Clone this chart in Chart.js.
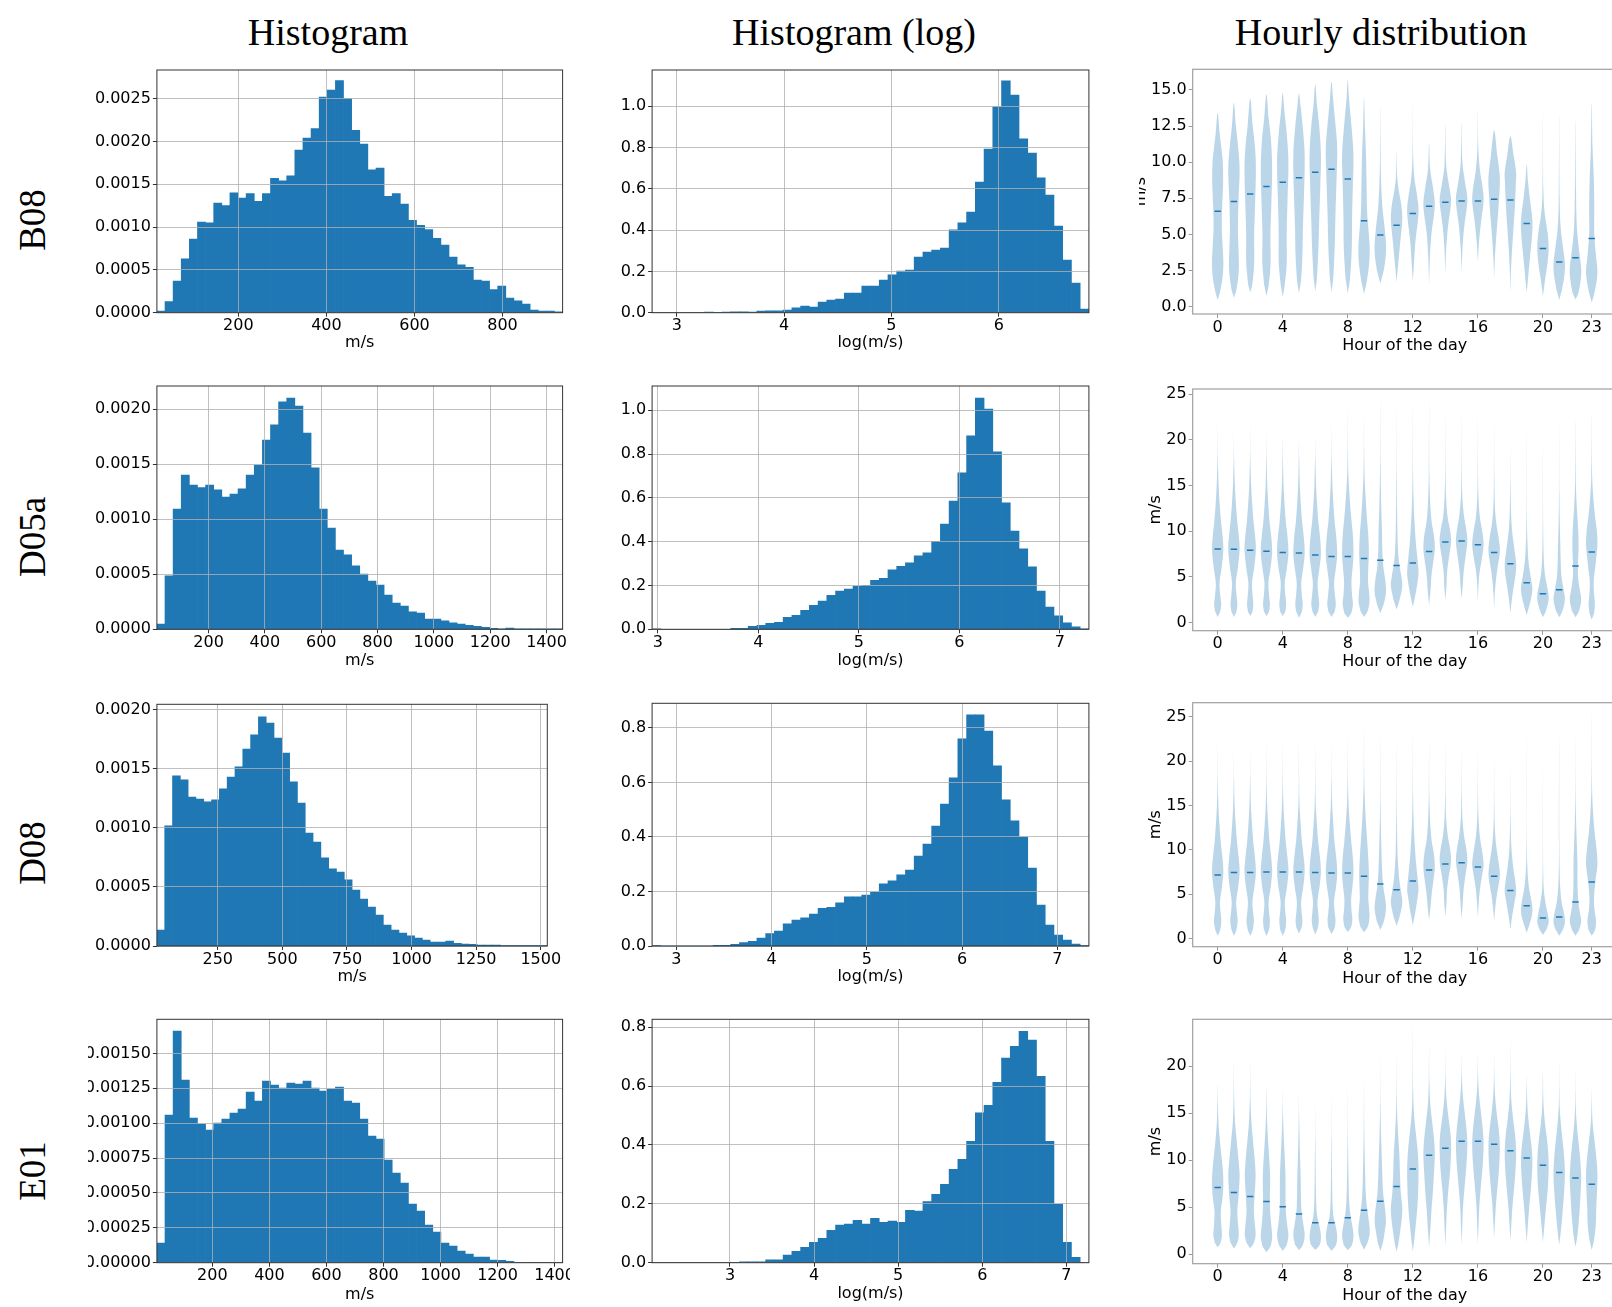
<!DOCTYPE html>
<html>
<head>
<meta charset="utf-8">
<script src="https://cdn.jsdelivr.net/npm/chart.js@4.4.1/dist/chart.umd.min.js"></script>
<style>
html, body { margin: 0; padding: 0; background: #fff; width: 1612px; height: 1307px; overflow: hidden; position: relative; }
canvas { position: absolute; }
.coltitle { position: absolute; font-family: 'Liberation Serif', serif; font-size: 38px; line-height: 38px; white-space: nowrap; transform: translateX(-50%); color: #000; }
.rowlabel { position: absolute; font-family: 'Liberation Serif', serif; font-size: 37px; line-height: 37px; white-space: nowrap; transform: translate(-50%, -50%) rotate(-90deg); color: #000; }
</style>
</head>
<body>
<div class="coltitle" style="left:328px; top:13px">Histogram</div>
<div class="coltitle" style="left:854px; top:13px">Histogram (log)</div>
<div class="coltitle" style="left:1381px; top:13px">Hourly distribution</div>
<div class="rowlabel" style="left:32px; top:220px">B08</div>
<div class="rowlabel" style="left:32px; top:537px">D05a</div>
<div class="rowlabel" style="left:32px; top:853px">D08</div>
<div class="rowlabel" style="left:32px; top:1171px">E01</div>

<script>
// === Datos ===
const stations = ['B08', 'D05a', 'D08', 'E01'];
const hours = [0, 1, 2, 3, 4, 5, 6, 7, 8, 9, 10, 11, 12, 13, 14, 15, 16, 17, 18, 19, 20, 21, 22, 23];
const hourTicks = [0, 4, 8, 12, 16, 20, 23];

// histogram densities (50 bins each) and bin ranges (m/s)
const histB08 = [0.00002,0.00013,0.00037,0.00063,0.00086,0.00106,0.00105,0.00128,0.00125,0.00140,
  0.00134,0.00139,0.00130,0.00139,0.00157,0.00154,0.00160,0.00190,0.00204,0.00215,
  0.00252,0.00260,0.00271,0.00250,0.00213,0.00197,0.00167,0.00169,0.00136,0.00139,
  0.00127,0.00108,0.00102,0.00097,0.00087,0.00079,0.00065,0.00056,0.00053,0.00038,
  0.00037,0.00027,0.00031,0.00017,0.00014,0.00010,0.00003,0.00002,0.00002,0.00001];
const histD05a = [0.000048,0.000485,0.001094,0.001403,0.001312,0.001288,0.001312,0.001267,0.001203,0.00123,
  0.001276,0.001403,0.001494,0.001721,0.001858,0.002067,0.002103,0.00203,0.001785,0.001467,
  0.001094,0.000921,0.000721,0.000676,0.000576,0.000503,0.000439,0.000403,0.000312,0.000239,
  0.000212,0.000158,0.000148,0.000094,0.000094,0.000076,0.000058,0.000048,0.000036,0.000027,
  0.000018,0.000009,0.000003,0.000012,0.000002,0.000002,0.000001,0.000001,0.000001,0.000001];
const histD08 = [0.000135,0.001016,0.001439,0.001405,0.001261,0.001244,0.001219,0.001236,0.001329,0.00143,
  0.001515,0.001667,0.001786,0.001938,0.001887,0.00176,0.001633,0.001388,0.00121,0.000956,
  0.00088,0.000745,0.000652,0.000626,0.000559,0.000474,0.000398,0.00033,0.000262,0.000178,
  0.000135,0.00011,0.000085,0.000068,0.000051,0.000034,0.000034,0.000042,0.000023,0.000017,
  0.000014,0.000008,0.000008,0.000008,0.000003,0.000002,0.000001,0.000001,0.000001,0.000001];
const histE01 = [0.000141,0.001058,0.00166,0.001309,0.001037,0.000994,0.000951,0.001001,0.001029,0.001072,
  0.001101,0.001223,0.001158,0.001302,0.001273,0.001252,0.001287,0.00128,0.001302,0.001252,
  0.00123,0.001244,0.001259,0.001158,0.001144,0.001029,0.000908,0.000886,0.000736,0.000643,
  0.000571,0.00042,0.00037,0.00027,0.00022,0.000141,0.000119,0.000084,0.000062,0.000041,
  0.000041,0.000019,0.000017,0.00001,0.000003,0.000002,0.000001,0.000001,0.000001,0.000001];
const histBinsB08 = [14.9, 936.5];
const histBinsD05a = [16.6, 1457];
const histBinsD08 = [14.5, 1525.2];
const histBinsE01 = [5.4, 1428.2];

// log histogram densities (50 bins each) and bin ranges log(m/s)
const logB08 = [0.001,0,0.001,0.001,0.001,0.002,0.003,0.002,0.003,0.004,
  0.004,0.003,0.008,0.009,0.009,0.013,0.023,0.032,0.027,0.052,
  0.061,0.066,0.095,0.095,0.129,0.129,0.158,0.183,0.202,0.207,
  0.270,0.294,0.304,0.313,0.401,0.435,0.488,0.633,0.793,0.997,
  1.123,1.055,0.842,0.774,0.653,0.570,0.420,0.255,0.144,0.018];
const logD05a = [0.001,0,0,0,0,0,0,0,0,0.005,
  0.005,0.014,0.018,0.027,0.032,0.055,0.064,0.087,0.110,0.129,
  0.155,0.175,0.184,0.196,0.201,0.224,0.233,0.271,0.288,0.303,
  0.335,0.349,0.402,0.481,0.586,0.714,0.883,1.056,1.006,0.810,
  0.577,0.449,0.367,0.285,0.175,0.102,0.061,0.029,0.011,0.001];
const logD08 = [0.001,0,0,0,0,0,0,0.002,0.002,0.006,
  0.013,0.017,0.029,0.046,0.055,0.081,0.095,0.103,0.117,0.138,
  0.142,0.158,0.180,0.180,0.187,0.198,0.228,0.239,0.261,0.279,
  0.330,0.374,0.440,0.521,0.617,0.760,0.848,0.848,0.789,0.661,
  0.536,0.459,0.400,0.286,0.150,0.077,0.040,0.022,0.007,0.001];
const logE01 = [0.001,0,0,0,0,0,0,0,0,0,
  0.003,0.003,0.003,0.010,0.010,0.026,0.039,0.052,0.069,0.083,
  0.110,0.128,0.131,0.144,0.131,0.151,0.137,0.141,0.137,0.178,
  0.175,0.208,0.232,0.266,0.317,0.351,0.412,0.509,0.535,0.613,
  0.695,0.735,0.786,0.756,0.633,0.412,0.198,0.069,0.018,0.001];
const logBinsB08 = [2.77, 6.84];
const logBinsD05a = [2.943, 7.288];
const logBinsD08 = [2.745, 7.33];
const logBinsE01 = [2.074, 7.268];

// hourly mean markers (m/s)
const meanB08 = [6.6,7.27,7.8,8.31,8.61,8.93,9.3,9.51,8.84,5.95,4.96,5.63,6.44,6.95,7.22,7.32,7.32,7.43,7.39,5.75,4.02,3.09,3.39,4.71];
const meanD05a = [8.03,8.0,7.9,7.8,7.66,7.6,7.37,7.2,7.2,7.0,6.8,6.24,6.5,7.77,8.8,8.9,8.5,7.66,6.42,4.34,3.14,3.58,6.17,7.7];
const meanD08 = [7.14,7.44,7.44,7.48,7.48,7.48,7.44,7.37,7.37,7.0,6.13,5.49,6.47,7.7,8.38,8.53,8.05,7.0,5.41,3.68,2.29,2.4,4.1,6.35];
const meanE01 = [7.07,6.54,6.11,5.58,5.04,4.26,3.34,3.34,3.87,4.65,5.61,7.18,9.06,10.5,11.26,12.0,12.0,11.69,10.98,10.23,9.45,8.67,8.1,7.42];

// violin outlines per hour: [m/s, relative half width]
const violinB08 = [
  [[0.46,0],[1,0.4],[2,0.85],[3,1],[4,0.9],[5.5,0.72],[7,0.8],[8.5,0.95],[10,0.9],[11,0.65],[12,0.35],[13.4,0]],
  [[0.62,0],[1.2,0.45],[2.5,0.85],[4,0.8],[5.5,0.7],[7.5,0.82],[9.5,1],[11,0.75],[12.5,0.35],[14.1,0]],
  [[0.97,0],[1.5,0.35],[3,0.7],[5,0.7],[7,0.85],[9.5,1],[11,0.85],[12.5,0.45],[14.4,0]],
  [[0.74,0],[1.5,0.4],[3,0.72],[5,0.7],[7,0.85],[9.5,1],[11.5,0.8],[13,0.4],[14.7,0]],
  [[0.69,0],[1.5,0.35],[3,0.7],[5,0.7],[7.5,0.85],[10,1],[12,0.7],[13.5,0.3],[14.8,0]],
  [[0.92,0],[1.8,0.35],[3.5,0.6],[5.5,0.7],[8,0.9],[10.5,1],[12.5,0.65],[14,0.25],[14.75,0]],
  [[1.04,0],[2,0.3],[4,0.55],[6,0.7],[8.5,0.9],[10.5,1],[12.5,0.7],[14,0.3],[15.4,0]],
  [[0.97,0],[2,0.3],[4,0.55],[6.5,0.7],[9,0.9],[11,1],[13,0.6],[14.5,0.25],[15.6,0]],
  [[0.92,0],[2,0.4],[4,0.7],[6,0.75],[8.5,0.9],[10.5,1],[12.5,0.65],[14.5,0.2],[15.7,0]],
  [[0.88,0],[1.8,0.5],[3,0.9],[4,1],[5,0.85],[6.5,0.55],[8.5,0.45],[10.5,0.35],[12.5,0.15],[14.5,0]],
  [[1.6,0],[2.5,0.6],[3.5,0.95],[4.3,1],[5.5,0.75],[7,0.35],[9,0.12],[11,0.05],[13.9,0]],
  [[1.7,0],[3,0.3],[4.5,0.65],[6,1],[7,0.85],[8,0.4],[9,0.12],[10.8,0]],
  [[1.73,0],[3,0.2],[4.5,0.45],[6,0.9],[6.8,1],[7.8,0.7],[9,0.25],[10.5,0.06],[14.2,0]],
  [[1.5,0],[3.5,0.15],[5,0.4],[6.5,0.9],[7.2,1],[8.2,0.7],[9.5,0.2],[11.3,0]],
  [[2.3,0],[4,0.15],[5.5,0.45],[7,0.95],[7.5,1],[8.5,0.6],[9.8,0.15],[12.6,0]],
  [[2.4,0],[4,0.15],[5.5,0.45],[7,0.95],[7.6,1],[8.6,0.6],[10,0.15],[12.7,0]],
  [[3.1,0],[4.5,0.2],[6,0.6],[7.3,1],[8.2,0.85],[9.5,0.35],[11,0.08],[13.7,0]],
  [[1.96,0],[3.5,0.15],[5,0.4],[6.5,0.7],[8,0.95],[9,1],[10.5,0.55],[12.2,0]],
  [[0.92,0],[2.5,0.1],[4,0.3],[5.5,0.55],[7,0.8],[8.5,0.95],[9.3,1],[10.5,0.55],[11.8,0]],
  [[0.92,0],[2,0.25],[3.5,0.6],[5,0.95],[6,1],[7.5,0.55],[8.8,0.2],[9.86,0]],
  [[0.74,0],[1.8,0.35],[3,0.8],[4,1],[5,0.85],[6.5,0.3],[8,0.08],[13.5,0]],
  [[0.46,0],[1.2,0.5],[2.3,0.95],[3,1],[4,0.7],[5.5,0.25],[7.5,0.08],[13.3,0]],
  [[0.5,0],[1,0.55],[2,0.95],[2.7,1],[4,0.6],[5.5,0.25],[8,0.1],[12.9,0]],
  [[0.28,0],[1,0.5],[2.3,1],[3.5,0.75],[5,0.45],[7,0.45],[9,0.35],[11,0.15],[14.1,0]]
];
const violinD05a = [
  [[0.6,0],[1.2,0.45],[2,0.62],[3,0.45],[4.3,0.33],[6,0.7],[8,1],[9.5,0.85],[11,0.6],[13,0.35],[15,0.17],[18,0.04],[22.1,0]],
  [[0.6,0],[1.2,0.45],[2,0.6],[3,0.45],[4.3,0.33],[6,0.7],[8,1],[9.5,0.85],[11,0.6],[13,0.35],[15,0.17],[18,0.04],[21.1,0]],
  [[0.7,0],[1.2,0.4],[2,0.55],[3,0.42],[4.3,0.32],[6,0.7],[8,1],[9.5,0.85],[11,0.6],[13,0.35],[15,0.17],[18,0.04],[21.6,0]],
  [[0.7,0],[1.2,0.45],[2,0.6],[3,0.45],[4.3,0.35],[6,0.72],[7.8,1],[9.5,0.82],[11,0.55],[13,0.32],[15,0.15],[18,0.04],[20.9,0]],
  [[0.7,0],[1.2,0.45],[2,0.6],[3,0.45],[4.3,0.35],[6,0.75],[7.7,1],[9.5,0.82],[11,0.55],[13,0.32],[15,0.15],[18,0.04],[20.3,0]],
  [[0.5,0],[1.2,0.5],[2,0.65],[3,0.5],[4.3,0.4],[6,0.75],[7.6,1],[9.5,0.82],[11,0.55],[13,0.32],[15,0.15],[18,0.04],[20.1,0]],
  [[0.6,0],[1.2,0.5],[2,0.7],[3,0.55],[4.3,0.42],[6,0.75],[7.5,1],[9.5,0.82],[11,0.55],[13,0.32],[15,0.15],[18,0.04],[20.5,0]],
  [[0.6,0],[1.2,0.55],[2,0.75],[3,0.6],[4.3,0.45],[6,0.78],[7.5,1],[9.5,0.82],[11,0.55],[13,0.33],[15,0.16],[18,0.04],[22.1,0]],
  [[0.5,0],[1,0.6],[2,0.9],[3,0.75],[4.5,0.65],[6,0.85],[7.5,1],[9.5,0.9],[11.5,0.6],[13.5,0.35],[16,0.12],[19,0.03],[23.6,0]],
  [[0.6,0],[1.2,0.6],[2.2,0.95],[3.2,0.9],[4.5,0.7],[6,0.75],[7.5,0.85],[9.5,0.75],[11.5,0.5],[13.5,0.3],[16,0.1],[19,0.03],[22.7,0]],
  [[1,0],[2,0.6],[3.3,1],[4.5,0.9],[6,0.55],[8,0.35],[10,0.3],[12,0.2],[14,0.12],[17,0.05],[24.3,0]],
  [[1.4,0],[2.5,0.55],[4,1],[5,0.85],[6.5,0.45],[8,0.25],[10,0.15],[13,0.08],[17,0.03],[24.3,0]],
  [[1.7,0],[3,0.45],[4.5,0.85],[5.5,1],[7,0.8],[9,0.5],[11,0.3],[13,0.15],[16,0.05],[24,0]],
  [[1.9,0],[3.5,0.25],[5,0.4],[6.5,0.7],[8,1],[9.5,0.85],[11,0.45],[13,0.2],[16,0.06],[24,0]],
  [[2.4,0],[4,0.2],[5.5,0.3],[7,0.6],[8.8,1],[10,0.85],[11.5,0.4],[13.5,0.15],[16,0.05],[22.9,0]],
  [[2.55,0],[4,0.2],[5.5,0.35],[7,0.65],[8.8,1],[10,0.85],[11.5,0.45],[13.5,0.15],[16,0.05],[22.7,0]],
  [[2.1,0],[4,0.1],[5.5,0.3],[7,0.7],[8.5,1],[9.8,0.8],[11.5,0.35],[13.5,0.12],[16,0.04],[22.9,0]],
  [[1.35,0],[3,0.1],[4.5,0.3],[6,0.6],[7.8,1],[9.2,0.8],[11,0.35],[13,0.12],[16,0.04],[22.1,0]],
  [[1,0],[2.5,0.25],[4,0.6],[5.5,0.95],[6.5,1],[8,0.7],[10,0.3],[12,0.12],[15,0.04],[19.8,0]],
  [[0.8,0],[1.8,0.45],[3,0.9],[3.8,1],[5,0.7],[6.5,0.35],[8.5,0.15],[11,0.05],[14,0.02],[21.6,0]],
  [[0.55,0],[1.3,0.55],[2.3,0.95],[3,1],[4,0.7],[5.5,0.3],[7.5,0.12],[10,0.05],[14,0.02],[19.8,0]],
  [[0.55,0],[1.3,0.6],[2.5,1],[3.5,0.8],[5,0.4],[7,0.25],[9,0.18],[11,0.1],[14,0.04],[22.1,0]],
  [[0.55,0],[1.3,0.65],[2.5,1],[3.8,0.7],[5,0.45],[6.5,0.45],[8.5,0.55],[10.5,0.45],[12.5,0.25],[15,0.08],[22.1,0]],
  [[0.3,0],[1,0.4],[2,0.55],[3.2,0.4],[4.5,0.35],[6.5,0.7],[8.5,1],[10,0.9],[11.5,0.6],[13.5,0.3],[16,0.08],[22.7,0]]
];
const violinD08 = [
  [[0.26,0],[1,0.45],[2,0.65],[3,0.5],[4.2,0.42],[5.8,0.75],[7.5,1],[9,0.85],[11,0.52],[13,0.3],[15,0.13],[18,0.03],[22.2,0]],
  [[0.26,0],[1,0.45],[2,0.65],[3,0.5],[4.2,0.4],[5.8,0.75],[7.5,1],[9,0.85],[11,0.52],[13,0.3],[15,0.13],[18,0.03],[21.2,0]],
  [[0.26,0],[1,0.45],[2,0.65],[3,0.5],[4.2,0.4],[5.8,0.75],[7.5,1],[9,0.85],[11,0.52],[13,0.3],[15,0.13],[18,0.03],[21.4,0]],
  [[0.26,0],[1,0.45],[2,0.6],[3,0.45],[4.2,0.38],[5.8,0.75],[7.6,1],[9,0.85],[11,0.52],[13,0.3],[15,0.13],[18,0.03],[22.4,0]],
  [[0.26,0],[1,0.45],[2,0.6],[3,0.45],[4.2,0.38],[5.8,0.75],[7.6,1],[9,0.85],[11,0.52],[13,0.3],[15,0.13],[18,0.03],[22,0]],
  [[0.56,0],[1.2,0.45],[2,0.6],[3,0.45],[4.2,0.38],[5.8,0.75],[7.6,1],[9,0.85],[11,0.5],[13,0.28],[15,0.1],[18,0.03],[22.6,0]],
  [[0.45,0],[1.2,0.45],[2,0.62],[3,0.5],[4.2,0.4],[5.8,0.75],[7.5,1],[9,0.85],[11,0.5],[13,0.28],[15,0.1],[18,0.03],[22.4,0]],
  [[0.5,0],[1.2,0.55],[2,0.7],[3,0.55],[4.2,0.45],[5.8,0.8],[7.4,1],[9,0.85],[11,0.5],[13,0.3],[15,0.12],[18,0.03],[21.8,0]],
  [[0.68,0],[1.3,0.6],[2.2,0.8],[3.2,0.65],[4.5,0.6],[6,0.85],[7.4,1],[9,0.9],[11,0.6],[13,0.35],[15,0.15],[18,0.04],[22.9,0]],
  [[0.68,0],[1.3,0.65],[2.3,0.95],[3.3,0.9],[4.5,0.75],[6,0.8],[7.3,0.85],[9,0.75],[11,0.55],[13,0.35],[15,0.18],[18,0.05],[24,0]],
  [[0.94,0],[2,0.65],[3.3,1],[4.5,0.85],[6,0.5],[8,0.3],[10,0.2],[12,0.12],[15,0.05],[22.6,0]],
  [[1.4,0],[2.5,0.55],[4,1],[5,0.85],[6.5,0.5],[8,0.3],[10,0.15],[13,0.07],[17,0.02],[22.4,0]],
  [[1.5,0],[3,0.45],[4.5,0.8],[5.5,1],[7,0.8],[9,0.5],[11,0.3],[13,0.15],[16,0.05],[23.3,0]],
  [[2.07,0],[3.5,0.25],[5,0.45],[6.5,0.75],[8,1],[9.5,0.85],[11,0.45],[13,0.2],[16,0.05],[22.4,0]],
  [[2.44,0],[4,0.2],[5.5,0.3],[7,0.6],[8.7,1],[10,0.85],[11.5,0.45],[13.5,0.15],[16,0.05],[21.8,0]],
  [[2.14,0],[4,0.2],[5.5,0.35],[7,0.65],[8.7,1],[10,0.85],[11.5,0.45],[13.5,0.15],[16,0.05],[21.4,0]],
  [[2.37,0],[4,0.15],[5.5,0.35],[7,0.7],[8.3,1],[9.6,0.8],[11.5,0.35],[13.5,0.12],[16,0.04],[21.2,0]],
  [[2,0],[3.5,0.2],[5,0.5],[6.5,0.9],[7.3,1],[8.5,0.8],[10.5,0.35],[12.5,0.12],[15,0.04],[20.5,0]],
  [[1,0],[2.5,0.3],[4,0.7],[5.3,1],[6.5,0.85],[8,0.5],[10,0.2],[12,0.08],[15,0.02],[19.4,0]],
  [[0.64,0],[1.6,0.5],[2.7,0.95],[3.5,1],[4.5,0.75],[6,0.35],[8,0.12],[10.5,0.04],[14,0.01],[23.1,0]],
  [[0.38,0],[1,0.6],[1.8,1],[2.7,0.85],[4,0.45],[5.5,0.15],[7.5,0.05],[11,0.02],[19.4,0]],
  [[0.3,0],[1,0.65],[1.8,1],[2.8,0.85],[4,0.45],[5.5,0.2],[7.5,0.08],[11,0.03],[22.6,0]],
  [[0.3,0],[1,0.65],[2,1],[3,0.75],[4.5,0.45],[6.5,0.35],[8.5,0.35],[10.5,0.25],[13,0.12],[16,0.04],[23.1,0]],
  [[0.3,0],[1,0.6],[2,0.75],[3.2,0.5],[4.5,0.4],[6.5,0.65],[8.3,1],[10,0.85],[12,0.5],[14,0.25],[17,0.06],[25.6,0]]
];
const violinE01 = [
  [[0.7,0],[1.2,0.5],[2,0.75],[3,0.65],[4.5,0.55],[6,0.85],[7.5,1],[9,0.9],[10.5,0.65],[12,0.4],[14,0.15],[16,0.05],[18.2,0]],
  [[0.6,0],[1.2,0.6],[2,0.85],[3,0.75],[4.5,0.6],[6,0.8],[7.5,0.95],[8.5,1],[10,0.8],[12,0.5],[14,0.2],[16.5,0.06],[20.3,0]],
  [[0.6,0],[1.2,0.65],[2,0.95],[3,0.85],[4.5,0.65],[6,0.75],[7.5,0.9],[8.5,0.95],[10,0.8],[12,0.5],[14,0.22],[16.5,0.06],[20.3,0]],
  [[0.18,0],[0.8,0.7],[1.8,1],[3,0.85],[4.5,0.65],[6,0.6],[7.5,0.65],[9,0.6],[11,0.4],[13,0.2],[15,0.07],[17.7,0]],
  [[0.32,0],[1,0.7],[2,1],[3,0.8],[4.5,0.55],[6,0.5],[7.5,0.5],[9,0.45],[11,0.3],[13,0.15],[15,0.05],[17.5,0]],
  [[0.39,0],[1,0.7],[2,1],[3,0.8],[4.5,0.45],[6,0.35],[8,0.3],[10,0.2],[12,0.12],[14.5,0.04],[17.5,0]],
  [[0.43,0],[1,0.8],[1.8,1],[2.8,0.8],[3.8,0.4],[5,0.2],[7,0.12],[9,0.08],[12,0.04],[16.4,0]],
  [[0.32,0],[1,0.8],[1.8,1],[2.8,0.8],[3.8,0.4],[5,0.2],[7,0.12],[9,0.08],[12,0.04],[17.3,0]],
  [[0.39,0],[1,0.75],[2,1],[3,0.8],[4.2,0.45],[5.5,0.25],[7.5,0.15],[10,0.08],[13,0.03],[18.2,0]],
  [[0.46,0],[1.2,0.6],[2.3,1],[3.5,0.85],[5,0.5],[6.5,0.3],[8.5,0.2],[10.5,0.12],[13,0.05],[18.4,0]],
  [[0.32,0],[1.2,0.45],[2.5,0.8],[3.5,1],[5,0.8],[6.5,0.5],[8.5,0.35],[10.5,0.25],[13,0.12],[16,0.04],[21,0]],
  [[0.25,0],[1.2,0.35],[2.5,0.65],[4,0.95],[5,1],[6.5,0.75],[8.5,0.6],[10.5,0.5],[12.5,0.3],[15,0.1],[17.5,0.03],[21.7,0]],
  [[0.25,0],[1.5,0.25],[3,0.5],[5,0.8],[7,0.95],[9,1],[11,0.85],[13,0.5],[15,0.2],[17.5,0.06],[24,0]],
  [[0.78,0],[2.5,0.2],[4.5,0.4],[6.5,0.65],[8.5,0.85],[10.5,1],[12,0.9],[14,0.55],[16,0.2],[18.5,0.05],[22.3,0]],
  [[0.78,0],[3,0.15],[5,0.3],[7,0.55],[9,0.85],[11,1],[12.5,0.95],[14.5,0.55],[16.5,0.2],[18.5,0.05],[21.7,0]],
  [[0.96,0],[3,0.12],[5,0.25],[7,0.5],[9.5,0.85],[11.5,1],[13,0.9],[15,0.55],[17,0.2],[19,0.05],[21.4,0]],
  [[1.03,0],[3,0.12],[5,0.25],[7,0.5],[9.5,0.85],[11.5,1],[13,0.9],[15,0.55],[17,0.2],[19,0.05],[21.4,0]],
  [[1.74,0],[3.5,0.15],[5.5,0.35],[7.5,0.65],[9.5,0.9],[11.5,1],[13,0.85],[15,0.45],[17,0.15],[19,0.04],[21.6,0]],
  [[1.39,0],[3,0.15],[5,0.35],[7,0.65],[9,0.9],[10.8,1],[12.5,0.85],[14.5,0.45],[16.5,0.15],[19,0.04],[23.2,0]],
  [[1.24,0],[3,0.2],[5,0.45],[7,0.75],[8.8,0.95],[10,1],[11.5,0.85],[13.5,0.45],[15.5,0.15],[17.5,0.04],[19.1,0]],
  [[1.24,0],[3,0.25],[5,0.55],[7,0.85],[9,1],[10.5,0.95],[12,0.75],[14,0.35],[16,0.1],[19.3,0]],
  [[0.96,0],[2.5,0.3],[4.5,0.6],[6.5,0.85],[8.5,1],[10,0.9],[11.5,0.7],[13.5,0.35],[15.5,0.1],[17.5,0.03],[20.7,0]],
  [[0.75,0],[2,0.35],[4,0.65],[6,0.85],[8,1],[9.5,0.9],[11,0.7],[13,0.35],[15,0.1],[17,0.03],[19.8,0]],
  [[0.43,0],[1.5,0.4],[3,0.7],[5,0.8],[7,0.95],[8.5,1],[10,0.85],[12,0.5],[14,0.15],[16,0.04],[17.7,0]]
];

// tick labels
const histTicksB08 = [200, 400, 600, 800];
const histTicksD05a = [200, 400, 600, 800, 1000, 1200, 1400];
const histTicksD08 = [250, 500, 750, 1000, 1250, 1500];
const histTicksE01 = [200, 400, 600, 800, 1000, 1200, 1400];
const densTicksB08 = [0, 0.0005, 0.001, 0.0015, 0.002, 0.0025];
const densTicksD05a = [0, 0.0005, 0.001, 0.0015, 0.002];
const densTicksD08 = [0, 0.0005, 0.001, 0.0015, 0.002];
const densTicksE01 = [0, 0.00025, 0.0005, 0.00075, 0.001, 0.00125, 0.0015];
const logTicksB08 = [3, 4, 5, 6];
const logTicksOther = [3, 4, 5, 6, 7];
const logDensTicksHigh = [0, 0.2, 0.4, 0.6, 0.8, 1.0];
const logDensTicksLow = [0, 0.2, 0.4, 0.6, 0.8];
const speedTicksB08 = [0, 2.5, 5, 7.5, 10, 12.5, 15];
const speedTicks25 = [0, 5, 10, 15, 20, 25];
const speedTicksE01 = [0, 5, 10, 15, 20];

// === Estilo y posiciones ===
const BLUE = '#1f77b4';
const VIOLIN_FILL = 'rgba(31,119,180,0.3)';
const HALF_WIDTH = 0.35;

Chart.defaults.font.family = "'DejaVu Sans', sans-serif";
Chart.defaults.font.size = 16;
Chart.defaults.color = '#000';

const framePlugin = {
  id: 'frame',
  afterDraw(chart, args, opts) {
    const {ctx, chartArea: a} = chart;
    ctx.save();
    ctx.strokeStyle = opts.color;
    ctx.lineWidth = opts.width;
    ctx.strokeRect(a.left, a.top, a.right - a.left, a.bottom - a.top);
    ctx.restore();
  }
};

function makeCanvas(box) {
  const c = document.createElement('canvas');
  c.width = box[2] - box[0];
  c.height = box[3] - box[1];
  c.style.left = box[0] + 'px';
  c.style.top = box[1] + 'px';
  document.body.appendChild(c);
  return c;
}

function xAxis(min, max, ticks, title, height, grid) {
  return {
    type: 'linear', min: min, max: max, offset: false,
    afterBuildTicks: s => { s.ticks = ticks.map(v => ({value: v})); },
    afterFit: s => { s.height = height; s.paddingLeft = 0; s.paddingRight = 0; },
    ticks: { autoSkip: false, maxRotation: 0, minRotation: 0, padding: 1.5, font: {size: 16, lineHeight: 1}, callback: v => String(v) },
    grid: grid,
    border: { display: false },
    title: { display: true, text: title, font: {size: 16, lineHeight: 1.2}, padding: 0 }
  };
}

function yAxis(min, max, ticks, dec, width, grid, title, titlePad) {
  return {
    type: 'linear', min: min, max: max,
    afterBuildTicks: s => { s.ticks = ticks.map(v => ({value: v})); },
    afterFit: s => { s.width = width; s.paddingTop = 0; s.paddingBottom = 0; },
    ticks: { autoSkip: false, padding: 2, font: {size: 16, lineHeight: 1}, callback: v => v.toFixed(dec) },
    grid: grid,
    border: { display: false },
    title: title ? { display: true, text: title, font: {size: 16, lineHeight: 1.2}, padding: {top: titlePad, bottom: 0} } : { display: false }
  };
}

function baseOptions(box, area) {
  return {
    responsive: false, animation: false, events: [], devicePixelRatio: 1,
    layout: { padding: { left: 0, top: area[1] - box[1], right: box[2] - area[2], bottom: 0 } }
  };
}

const histGrid = { offset: false, color: '#b0b0b0', lineWidth: 0.8, z: 1, drawTicks: true, tickLength: 4, tickColor: '#333', tickWidth: 1 };
const vioGrid = { offset: false, drawOnChartArea: false, drawTicks: true, tickLength: 4, tickColor: '#999', tickWidth: 1 };

function histPanel(box, area, counts, bins, xTicks, yTicks, yDec, yMax, xTitle) {
  const w = (bins[1] - bins[0]) / counts.length;
  const data = counts.map((v, i) => ({x: bins[0] + (i + 0.5) * w, y: v}));
  const opts = baseOptions(box, area);
  opts.plugins = { legend: {display: false}, tooltip: {enabled: false}, frame: {color: '#333', width: 1} };
  opts.scales = {
    x: xAxis(bins[0], bins[1], xTicks, xTitle, box[3] - area[3], histGrid),
    y: yAxis(0, yMax, yTicks, yDec, area[0] - box[0], histGrid)
  };
  new Chart(makeCanvas(box), {
    type: 'bar',
    data: { datasets: [{ data: data, backgroundColor: BLUE, borderWidth: 0, barPercentage: 1, categoryPercentage: 1 }] },
    options: opts,
    plugins: [framePlugin]
  });
}

function violinPanel(box, area, shapes, means, yRange, yTicks, yDec, titlePad) {
  const datasets = shapes.map((knots, i) => {
    const h = hours[i];
    const right = knots.map(k => ({x: h + k[1] * HALF_WIDTH, y: k[0]}));
    const left = knots.slice(1, -1).reverse().map(k => ({x: h - k[1] * HALF_WIDTH, y: k[0]}));
    return { data: right.concat(left), fill: 'shape', backgroundColor: VIOLIN_FILL, borderColor: 'rgba(0,0,0,0)', borderWidth: 0, pointRadius: 0, tension: 0.35 };
  });
  datasets.push({
    data: means.map((m, i) => ({x: hours[i], y: m})),
    showLine: false, fill: false, pointStyle: 'line', pointRadius: 3.2,
    pointBorderColor: BLUE, pointBorderWidth: 1.5, borderColor: BLUE
  });
  const opts = baseOptions(box, area);
  opts.plugins = { legend: {display: false}, tooltip: {enabled: false}, frame: {color: '#a0a0a0', width: 1.2} };
  opts.scales = {
    x: xAxis(-1.535, 24.535, hourTicks, 'Hour of the day', box[3] - area[3], vioGrid),
    y: yAxis(yRange[0], yRange[1], yTicks, yDec, area[0] - box[0], vioGrid, 'm/s', titlePad)
  };
  new Chart(makeCanvas(box), { type: 'line', data: { datasets: datasets }, options: opts, plugins: [framePlugin] });
}

// === Fila B08 ===
histPanel([88, 55, 570, 352], [156.9, 70, 562.6, 312.7], histB08, histBinsB08, histTicksB08, densTicksB08, 4, 0.002835, 'm/s');
histPanel([600, 55, 1100, 352], [652.1, 70, 1088.9, 312.7], logB08, logBinsB08, logTicksB08, logDensTicksHigh, 1, 1.176, 'log(m/s)');
violinPanel([1139, 55, 1630, 355], [1192.7, 69.3, 1616.7, 314], violinB08, meanB08, [-0.51, 16.43], speedTicksB08, 1, -8);

// === Fila D05a ===
histPanel([88, 371, 570, 670], [156.9, 386, 562.6, 629.3], histD05a, histBinsD05a, histTicksD05a, densTicksD05a, 4, 0.002212, 'm/s');
histPanel([600, 371, 1100, 670], [652.1, 386, 1088.9, 629.3], logD05a, logBinsD05a, logTicksOther, logDensTicksHigh, 1, 1.111, 'log(m/s)');
violinPanel([1143, 371, 1630, 671], [1192.7, 389, 1616.7, 630.7], violinD05a, meanD05a, [-0.91, 25.55], speedTicks25, 0, 3);

// === Fila D08 ===
histPanel([88, 689, 570, 986], [156.9, 704.3, 547.3, 946], histD08, histBinsD08, histTicksD08, densTicksD08, 4, 0.002045, 'm/s');
histPanel([600, 689, 1100, 986], [652.1, 703.3, 1088.9, 946], logD08, logBinsD08, logTicksOther, logDensTicksLow, 1, 0.8905, 'log(m/s)');
violinPanel([1143, 689, 1630, 988], [1192.7, 702.7, 1616.7, 946.7], violinD08, meanD08, [-0.94, 26.58], speedTicks25, 0, 3);

// === Fila E01 ===
histPanel([88, 1004, 570, 1304], [156.9, 1019.3, 562.6, 1262.7], histE01, histBinsE01, histTicksE01, densTicksE01, 5, 0.001744, 'm/s');
histPanel([600, 1004, 1100, 1303], [652.1, 1019.3, 1088.9, 1262.7], logE01, logBinsE01, logTicksOther, logDensTicksLow, 1, 0.827, 'log(m/s)');
violinPanel([1143, 1004, 1630, 1305], [1192.7, 1019.3, 1616.7, 1263.7], violinE01, meanE01, [-1.03, 24.98], speedTicksE01, 0, 3);
</script>
</body>
</html>
